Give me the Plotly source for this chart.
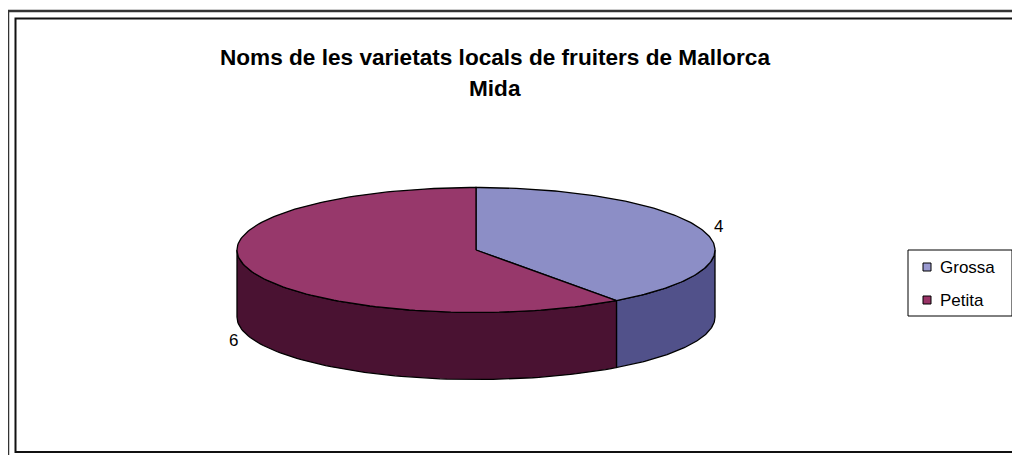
import numpy as np
import plotly.graph_objects as go

# ---- data ----
categories = ["Grossa", "Petita"]
values = [4, 6]
title_lines = ["Noms de les varietats locals de fruiters de Mallorca", "Mida"]

# ---- style ----
top_colors = ["#8C8EC6", "#97386B"]
side_colors = ["#51518A", "#4A1232"]
legend_colors = ["#9999D0", "#993366"]
W, H = 1020, 455
OFF = 8  # page body margin: axes are set so data units == screen pixels
cx, cy, rx, ry, depth = 476, 250, 239, 62.5, 67
FONT = "Arial, Liberation Sans, Helvetica, sans-serif"


def ell(theta_deg, dy=0.0):
    t = np.radians(theta_deg)
    return cx + rx * np.sin(t), cy - ry * np.cos(t) + dy


fig = go.Figure()

total = float(sum(values))
starts = []
acc = 0.0
for v in values:
    starts.append((acc, acc + v / total * 360.0))
    acc += v / total * 360.0

# side walls (visible front part: 90..270 deg clockwise from top)
for (a, b), col in zip(starts, side_colors):
    s, e = max(a, 90.0), min(b, 270.0)
    if e <= s:
        continue
    th = np.linspace(s, e, 80)
    xt, yt = ell(th)
    xb, yb = ell(th[::-1], depth)
    xs = np.concatenate([xt, xb, xt[:1]])
    ys = np.concatenate([yt, yb, yt[:1]])
    fig.add_trace(go.Scatter(x=xs, y=ys, mode="lines", fill="toself",
                             fillcolor=col, line=dict(color="black", width=1.3),
                             hoverinfo="skip", showlegend=False))

# top faces
for (a, b), col in zip(starts, top_colors):
    th = np.linspace(a, b, 150)
    xa, ya = ell(th)
    xs = np.concatenate([[cx], xa, [cx]])
    ys = np.concatenate([[cy], ya, [cy]])
    fig.add_trace(go.Scatter(x=xs, y=ys, mode="lines", fill="toself",
                             fillcolor=col, line=dict(color="black", width=1.3),
                             hoverinfo="skip", showlegend=False))

# data labels
for (a, b), v in zip(starts, values):
    m = (a + b) / 2
    t = np.radians(m)
    lx = cx + (rx + 16) * np.sin(t)
    ly = cy - (ry + 14) * np.cos(t) + (depth if np.cos(t) < 0 else 0)
    fig.add_annotation(x=lx, y=ly, text=str(v), showarrow=False,
                       font=dict(family=FONT, size=17, color="black"),
                       xanchor="center", yanchor="middle")

# legend (box, swatches, names)
lg_x0, lg_y0, lg_x1, lg_y1 = 908, 250, 1012, 316
fig.add_shape(type="rect", x0=lg_x0, y0=lg_y0, x1=lg_x1, y1=lg_y1,
              line=dict(color="black", width=1), fillcolor="white")
for i, (name, col) in enumerate(zip(categories, legend_colors)):
    yc = 267 + i * 33
    fig.add_shape(type="rect", x0=923, y0=yc - 4, x1=931, y1=yc + 4,
                  line=dict(color="black", width=1), fillcolor=col)
    fig.add_annotation(x=938, y=yc, text=name, showarrow=False,
                       xanchor="left", yanchor="middle",
                       font=dict(family=FONT, size=17, color="black"))

# title
for j, line in enumerate(title_lines):
    fig.add_annotation(x=495, y=57 + j * 31, text="<b>" + line + "</b>",
                       showarrow=False, xanchor="center", yanchor="middle",
                       font=dict(family=FONT, size=22.6, color="black"))

# frames
fig.add_shape(type="rect", x0=8, y0=11, x1=W + 40, y1=H + 40,
              line=dict(color="#333333", width=2.5), layer="below")
fig.add_shape(type="rect", x0=15.5, y0=18.5, x1=1017, y1=452,
              line=dict(color="#111111", width=2), layer="below")

fig.update_layout(
    width=W, height=H,
    margin=dict(l=0, r=0, t=0, b=0),
    paper_bgcolor="white", plot_bgcolor="white",
    xaxis=dict(range=[OFF, W + OFF], visible=False, fixedrange=True),
    yaxis=dict(range=[H + OFF, OFF], visible=False, fixedrange=True),
    showlegend=False,
)

fig.write_html("out.html")
